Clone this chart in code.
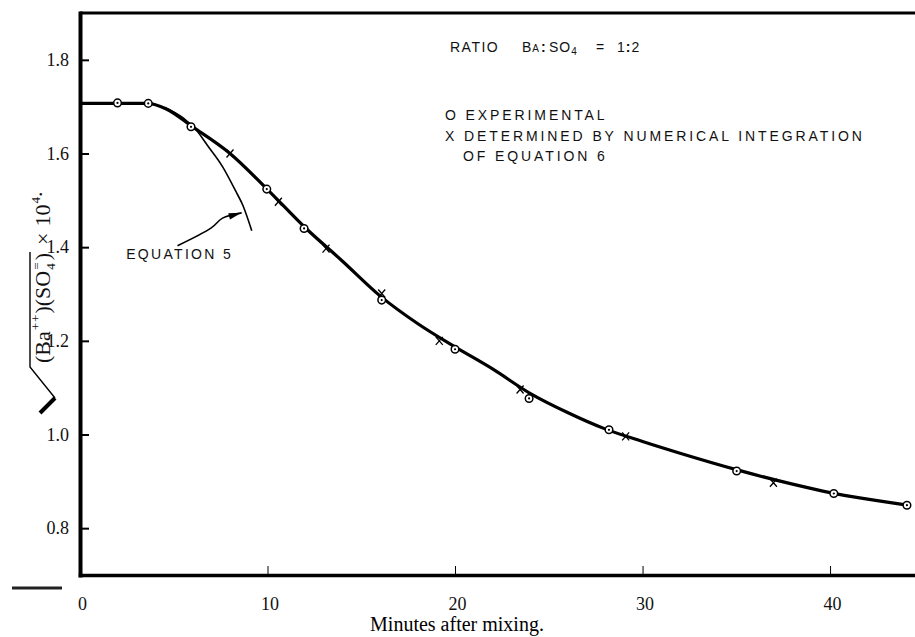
<!DOCTYPE html>
<html>
<head>
<meta charset="utf-8">
<script src="https://cdn.jsdelivr.net/npm/d3@7"></script>
<style>
  body { margin: 0; background: #fff; }
  svg { display: block; }
</style>
</head>
<body>
<div id="wrapper"></div>
<script>
// tick values
const xTicks = [0, 10, 20, 30, 40];
const yTicks = [0.8, 1.0, 1.2, 1.4, 1.6, 1.8];

// smooth curve drawn through the points
const curveMinutes = [0, 3.6, 4.6, 6, 8, 10, 12, 14, 16, 18, 20, 22, 24, 26, 28, 30, 32, 35, 38, 40, 42, 44.3];
const curveValues = [1.707, 1.707, 1.695, 1.657, 1.600, 1.523, 1.442, 1.370, 1.296, 1.237, 1.187, 1.140, 1.088, 1.047, 1.012, 0.985, 0.960, 0.925, 0.894, 0.876, 0.862, 0.848];

// equation 5 branch
const eq5Minutes = [4.5, 5.5, 6.2, 6.8, 7.6, 8.3, 8.7, 9.16];
const eq5Values = [1.699, 1.676, 1.650, 1.617, 1.572, 1.520, 1.488, 1.435];

// O experimental
const expMinutes = [2.0, 3.64, 5.92, 9.96, 11.95, 16.09, 20.0, 23.95, 28.21, 35.02, 40.2, 44.1];
const expValues = [1.708, 1.707, 1.657, 1.524, 1.440, 1.287, 1.182, 1.077, 1.010, 0.922, 0.874, 0.849];

// X numerical integration of equation 6
const numMinutes = [8.0, 10.58, 13.12, 16.09, 19.16, 23.47, 29.1, 36.98];
const numValues = [1.600, 1.497, 1.397, 1.301, 1.200, 1.096, 0.996, 0.897];

// arrow pointing at equation 5 curve
const arrowMinutes = [5.2, 7.0, 7.6, 8.62];
const arrowValues = [1.403, 1.441, 1.462, 1.4733];

drawChart();

function drawChart() {
  let dimensions = {
    width: 915,
    height: 637,
    margin: { top: 13, right: 0, bottom: 62, left: 80 },
  };
  dimensions.boundedWidth = dimensions.width - dimensions.margin.left - dimensions.margin.right;
  dimensions.boundedHeight = dimensions.height - dimensions.margin.top - dimensions.margin.bottom;

  const serif = "'Liberation Serif', 'DejaVu Serif', serif";
  const lettering = "'Liberation Sans', 'DejaVu Sans', sans-serif";

  const svg = d3
    .select("#wrapper")
    .append("svg")
    .attr("width", dimensions.width)
    .attr("height", dimensions.height);

  const xScale = d3
    .scaleLinear()
    .domain([0, 44.53])
    .range([dimensions.margin.left, dimensions.width - dimensions.margin.right]);

  const yScale = d3
    .scaleLinear()
    .domain([0.7, 1.9])
    .range([dimensions.margin.top + dimensions.boundedHeight, dimensions.margin.top]);

  // top border
  svg
    .append("line")
    .attr("x1", xScale(0))
    .attr("x2", dimensions.width)
    .attr("y1", yScale(1.9))
    .attr("y2", yScale(1.9))
    .attr("stroke", "#000")
    .attr("stroke-width", 3);

  // y axis
  const yAxisGenerator = d3
    .axisLeft(yScale)
    .tickValues(yTicks)
    .tickSizeInner(-9)
    .tickSizeOuter(0)
    .tickPadding(11)
    .tickFormat(d3.format(".1f"));

  const yAxis = svg
    .append("g")
    .attr("transform", `translate(${xScale(0)},0)`)
    .call(yAxisGenerator);
  yAxis.select(".domain").attr("stroke-width", 4).attr("stroke-linecap", "square");
  yAxis.selectAll(".tick line").attr("stroke-width", 2);
  yAxis
    .selectAll(".tick text")
    .style("font-family", serif)
    .style("font-size", "18px")
    .attr("fill", "#111");

  // x axis
  const xAxisGenerator = d3
    .axisBottom(xScale)
    .tickValues(xTicks)
    .tickSizeInner(-9)
    .tickSizeOuter(0)
    .tickPadding(22)
    .tickFormat(d3.format("d"));

  const xAxis = svg
    .append("g")
    .attr("transform", `translate(0,${yScale(0.7)})`)
    .call(xAxisGenerator);
  xAxis.select(".domain").attr("stroke-width", 3.5).attr("stroke-linecap", "square");
  xAxis.selectAll(".tick line").attr("stroke-width", 1);
  xAxis
    .selectAll(".tick text")
    .attr("dx", 2)
    .style("font-family", serif)
    .style("font-size", "18px")
    .attr("fill", "#111");

  // stray mark at bottom left
  svg
    .append("line")
    .attr("x1", 12)
    .attr("x2", 62)
    .attr("y1", 588)
    .attr("y2", 588)
    .attr("stroke", "#222")
    .attr("stroke-width", 3);

  // x axis title
  svg
    .append("text")
    .attr("x", 457)
    .attr("y", 631)
    .attr("text-anchor", "middle")
    .style("font-family", serif)
    .style("font-size", "20px")
    .text("Minutes after mixing.");

  // main curve
  const curveData = curveMinutes.map((m, i) => ({ m, v: curveValues[i] }));
  const lineGenerator = d3
    .line()
    .x((d) => xScale(d.m))
    .y((d) => yScale(d.v))
    .curve(d3.curveMonotoneX);

  svg
    .append("path")
    .attr("d", lineGenerator(curveData))
    .attr("fill", "none")
    .attr("stroke", "#000")
    .attr("stroke-width", 3.2);

  // equation 5 branch
  const eq5Data = eq5Minutes.map((m, i) => ({ m, v: eq5Values[i] }));
  svg
    .append("path")
    .attr("d", lineGenerator(eq5Data))
    .attr("fill", "none")
    .attr("stroke", "#000")
    .attr("stroke-width", 1.6);

  // arrow
  const arrowData = arrowMinutes.map((m, i) => ({ m, v: arrowValues[i] }));
  const arrowLine = d3
    .line()
    .x((d) => xScale(d.m))
    .y((d) => yScale(d.v))
    .curve(d3.curveCatmullRom);
  svg
    .append("path")
    .attr("d", arrowLine(arrowData))
    .attr("fill", "none")
    .attr("stroke", "#000")
    .attr("stroke-width", 1.6);

  const n = arrowData.length;
  const tipX = xScale(arrowData[n - 1].m);
  const tipY = yScale(arrowData[n - 1].v);
  const fromX = xScale(arrowData[n - 2].m);
  const fromY = yScale(arrowData[n - 2].v);
  const angle = Math.atan2(tipY - fromY, tipX - fromX) * 180 / Math.PI;
  svg
    .append("path")
    .attr("d", "M0,0 L-13,-3.2 L-13,3.2 Z")
    .attr("transform", `translate(${tipX},${tipY}) rotate(${angle})`)
    .attr("fill", "#000");

  // X markers
  const numData = numMinutes.map((m, i) => ({ m, v: numValues[i] }));
  svg
    .append("g")
    .selectAll("path")
    .data(numData)
    .join("path")
    .attr("transform", (d) => `translate(${xScale(d.m)},${yScale(d.v)})`)
    .attr("d", "M-3.5,-4 L3.5,4 M3.5,-4 L-3.5,4")
    .attr("stroke", "#000")
    .attr("stroke-width", 1.3)
    .attr("fill", "none");

  // O markers
  const expData = expMinutes.map((m, i) => ({ m, v: expValues[i] }));
  const expGroup = svg
    .append("g")
    .selectAll("g")
    .data(expData)
    .join("g")
    .attr("transform", (d) => `translate(${xScale(d.m)},${yScale(d.v)})`);
  expGroup
    .append("circle")
    .attr("r", 3.8)
    .attr("fill", "#fff")
    .attr("stroke", "#000")
    .attr("stroke-width", 1.5);
  expGroup.append("circle").attr("r", 1.1).attr("fill", "#000");

  // annotations
  const notes = svg
    .append("g")
    .style("font-family", lettering)
    .style("font-size", "14px")
    .style("letter-spacing", "2.9px")
    .attr("fill", "#111");

  // ratio line, hand lettered pieces
  notes.append("text").attr("x", 450).attr("y", 52).style("letter-spacing", "1.5px").text("RATIO");
  const ba = notes.append("text").attr("x", 522).attr("y", 52).style("letter-spacing", "1px");
  ba.append("tspan").text("B");
  ba.append("tspan").style("font-size", "10px").text("A");
  notes.append("text").attr("x", 541).attr("y", 52).style("font-weight", "bold").text(":");
  const so = notes.append("text").attr("x", 549).attr("y", 52).style("letter-spacing", "1px");
  so.append("tspan").text("SO");
  so.append("tspan").attr("dy", 3).style("font-size", "10px").text("4");
  notes.append("text").attr("x", 596).attr("y", 52).text("=");
  const one = notes.append("text").attr("x", 617).attr("y", 52).style("letter-spacing", "1px");
  one.append("tspan").text("1");
  one.append("tspan").style("font-weight", "bold").text(":");
  one.append("tspan").text("2");

  notes.append("text").attr("x", 445).attr("y", 120).text("O EXPERIMENTAL");
  notes
    .append("text")
    .attr("x", 445)
    .attr("y", 141)
    .text("X DETERMINED BY NUMERICAL INTEGRATION");
  notes.append("text").attr("x", 463).attr("y", 161).text("OF EQUATION 6");
  notes
    .append("text")
    .attr("x", 233)
    .attr("y", 259)
    .attr("text-anchor", "end")
    .style("letter-spacing", "2.3px")
    .text("EQUATION 5");

  // y axis title with radical sign, laid out piece by piece
  const yTitle = svg
    .append("g")
    .attr("transform", "translate(50,413) rotate(-90)")
    .style("font-family", serif)
    .attr("fill", "#111");

  const big = 22;
  const small = 13;
  let u = 50;
  function piece(str, size, shift, advance = true) {
    const t = yTitle
      .append("text")
      .attr("x", u)
      .attr("y", shift)
      .style("font-size", size + "px")
      .text(str);
    const w = t.node().getComputedTextLength();
    if (advance) u += w;
    return w;
  }
  piece("(Ba", big, 0);
  u += 1;
  piece("+", small, -10);
  u += 1;
  piece("+", small, -10);
  u += 1;
  piece(")(SO", big, 0);
  u += 1;
  const w4 = piece("4", small, 5, false);
  piece("=", small, -9, false);
  u += w4 + 3;
  piece(")", big, 0);
  const overlineEnd = u + 1;

  yTitle
    .append("path")
    .attr("d", `M15,5 L46,-20 L${overlineEnd},-20`)
    .attr("fill", "none")
    .attr("stroke", "#000")
    .attr("stroke-width", 1.4);
  yTitle
    .append("path")
    .attr("d", "M0,-10 L15,5")
    .attr("stroke", "#000")
    .attr("stroke-width", 4);

  u += 8;
  piece("×", big, 0);
  u += 6;
  piece("10", big, 0);
  u += 1;
  piece("4", small, -10);
  piece(".", big, -8);
}
</script>
</body>
</html>
